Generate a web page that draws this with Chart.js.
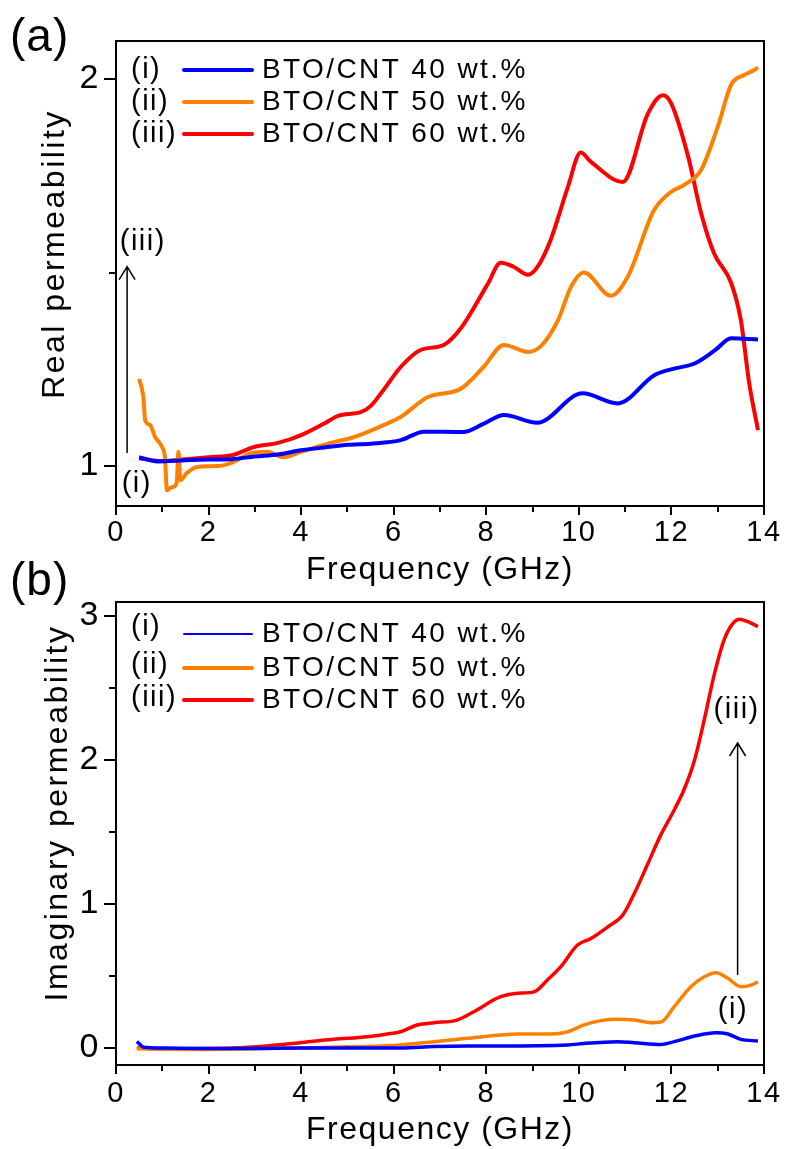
<!DOCTYPE html>
<html>
<head>
<meta charset="utf-8">
<title>BTO/CNT permeability</title>
<script src="https://cdn.jsdelivr.net/npm/chart.js@4.4.1/dist/chart.umd.min.js"></script>
<style>
    html, body { margin: 0; padding: 0; background: #fff; }
    body { width: 788px; height: 1149px; position: relative; overflow: hidden; }
    canvas { position: absolute; left: 0; }
    #realChart { top: 0; }
    #imagChart { top: 560px; }
</style>
</head>
<body>
<canvas id="realChart" width="788" height="600"></canvas>
<canvas id="imagChart" width="788" height="589"></canvas>
<script>
// Axis ticks
const xTicks = [0, 2, 4, 6, 8, 10, 12, 14];
const xMinorTicks = [1, 3, 5, 7, 9, 11, 13];
const realTicks = [1, 2];
const realMinorTicks = [1.5];
const imagTicks = [0, 1, 2, 3];
const imagMinorTicks = [0.5, 1.5, 2.5];

// Series labels
const seriesTags = ['(i)', '(ii)', '(iii)'];
const seriesLabels = ['BTO/CNT 40 wt.%', 'BTO/CNT 50 wt.%', 'BTO/CNT 60 wt.%'];
const seriesColors = ['#0000ff', '#ff8000', '#ff0000'];

// (a) real permeability
const realFreq40 = [0.5, 0.9, 1.5, 2.0, 2.5, 3.0, 3.5, 4.0, 4.5, 5.0, 5.5, 6.15, 6.65, 7.5, 7.95, 8.38, 9.1, 10.08, 10.84, 11.63, 12.06, 12.5, 12.95, 13.29, 13.87];
const real40 = [1.023, 1.012, 1.015, 1.017, 1.018, 1.025, 1.03, 1.041, 1.048, 1.055, 1.058, 1.067, 1.089, 1.088, 1.11, 1.132, 1.112, 1.188, 1.162, 1.235, 1.252, 1.265, 1.30, 1.33, 1.327];

const realFreq50 = [0.5, 0.59, 0.63, 0.74, 0.84, 0.99, 1.06, 1.1, 1.2, 1.31, 1.35, 1.39, 1.53, 1.75, 2.19, 2.53, 2.9, 3.27, 3.61, 3.98, 4.35, 4.7, 5.06, 5.43, 5.78, 6.15, 6.73, 7.45, 7.94, 8.38, 8.9, 9.18, 9.55, 9.83, 10.11, 10.69, 11.06, 11.62, 11.99, 12.27, 12.64, 13.0, 13.29, 13.57, 13.79, 13.87];
const real50 = [1.225, 1.179, 1.119, 1.106, 1.076, 1.05, 1.02, 0.938, 0.945, 0.956, 1.037, 0.964, 0.982, 0.998, 1.0, 1.01, 1.033, 1.037, 1.023, 1.036, 1.05, 1.062, 1.072, 1.088, 1.106, 1.127, 1.178, 1.20, 1.256, 1.313, 1.295, 1.31, 1.377, 1.463, 1.50, 1.44, 1.49, 1.66, 1.708, 1.726, 1.765, 1.876, 1.985, 2.01, 2.023, 2.03];

const realFreq60 = [0.5, 1.0, 1.5, 2.0, 2.5, 3.0, 3.5, 4.0, 4.5, 4.8, 5.3, 5.5, 5.8, 6.15, 6.58, 7.08, 7.45, 8.03, 8.31, 8.59, 8.9, 9.11, 9.39, 9.76, 10.04, 10.26, 10.95, 11.49, 11.82, 11.99, 12.36, 12.64, 12.92, 13.29, 13.5, 13.68, 13.87];
const real60 = [1.02, 1.013, 1.018, 1.023, 1.028, 1.05, 1.06, 1.08, 1.11, 1.13, 1.14, 1.155, 1.2, 1.256, 1.30, 1.313, 1.356, 1.47, 1.525, 1.515, 1.494, 1.515, 1.584, 1.72, 1.81, 1.786, 1.734, 1.91, 1.958, 1.938, 1.80, 1.654, 1.55, 1.473, 1.377, 1.214, 1.093];

// (b) imaginary permeability
const imagFreq40 = [0.45, 0.5, 0.6, 1.0, 2.0, 3.0, 4.0, 5.0, 6.15, 6.87, 7.59, 8.31, 9.76, 10.11, 10.84, 11.2, 11.77, 12.06, 12.5, 12.96, 13.22, 13.5, 13.87];
const imag40 = [0.045, 0.03, 0.005, 0.0, -0.003, -0.003, 0.0, 0.0, 0.0, 0.01, 0.014, 0.014, 0.021, 0.032, 0.044, 0.037, 0.025, 0.044, 0.083, 0.106, 0.097, 0.06, 0.049];

const imagFreq50 = [0.45, 1.0, 1.82, 3.0, 3.98, 5.0, 5.43, 6.15, 6.87, 7.59, 8.31, 8.67, 9.39, 9.76, 10.11, 10.48, 10.84, 11.2, 11.56, 11.77, 12.06, 12.42, 12.71, 12.96, 13.22, 13.5, 13.72, 13.87];
const imag50 = [-0.005, -0.008, -0.01, -0.005, 0.0, 0.008, 0.01, 0.021, 0.044, 0.067, 0.09, 0.097, 0.097, 0.113, 0.16, 0.19, 0.199, 0.194, 0.176, 0.18, 0.287, 0.426, 0.495, 0.523, 0.484, 0.426, 0.437, 0.46];

const imagFreq60 = [0.45, 1.1, 2.53, 3.26, 3.98, 4.7, 5.43, 5.86, 6.15, 6.51, 6.87, 7.37, 7.73, 8.31, 8.67, 9.03, 9.32, 9.61, 9.97, 10.26, 10.62, 10.95, 11.2, 11.49, 11.77, 12.06, 12.28, 12.5, 12.71, 12.93, 13.15, 13.36, 13.47, 13.65, 13.87];
const imag60 = [0.0, -0.005, 0.0, 0.014, 0.037, 0.06, 0.078, 0.097, 0.113, 0.16, 0.176, 0.194, 0.252, 0.356, 0.38, 0.39, 0.472, 0.565, 0.715, 0.76, 0.84, 0.924, 1.074, 1.28, 1.48, 1.653, 1.80, 2.0, 2.28, 2.6, 2.845, 2.96, 2.977, 2.96, 2.926];

const FONT = "'Liberation Sans', Arial, sans-serif";
Chart.defaults.font.family = FONT;
Chart.defaults.color = '#000';

// per-panel decorations: legend rows, arrow, labels (values in data units where it makes sense)
const panelSetup = {
    realChart: {
        panel: '(a)', panelY: 38,
        yTitle: 'Real permeability', yTitleX: 64, yTitleY: 254,
        minor: realMinorTicks,
        tagY: [70, 102, 134], rowY: [70, 102, 134], legendWidths: [4, 4, 4],
        arrow: { x: 0.24, from: 1.034, to: 1.515 },
        top: { text: '(iii)', x: 0.58, y: 1.58 },
        bottom: { text: '(i)', x: 0.45, y: 0.955 }
    },
    imagChart: {
        panel: '(b)', panelY: 22,
        yTitle: 'Imaginary permeability', yTitleX: 67, yTitleY: 253,
        minor: imagMinorTicks,
        tagY: [67, 105, 138], rowY: [74, 108, 140], legendWidths: [2, 4, 4],
        arrow: { x: 13.43, from: 0.507, to: 2.118 },
        top: { text: '(iii)', x: 13.41, y: 2.347 },
        bottom: { text: '(i)', x: 13.33, y: 0.264 }
    }
};

function drawText(ctx, str, x, y, size, align, spacing) {
    ctx.font = size + 'px ' + FONT;
    ctx.letterSpacing = spacing + 'px';
    ctx.textAlign = align;
    ctx.textBaseline = 'middle';
    ctx.fillStyle = '#000';
    ctx.fillText(str, x, y);
}

const framePlugin = {
    id: 'frame',
    beforeDraw(chart) {
        chart.ctx.letterSpacing = '1.5px';
    },
    afterDatasetsDraw(chart) {
        const setup = panelSetup[chart.canvas.id];
        const { ctx, chartArea: a, scales: { x, y } } = chart;
        ctx.save();
        ctx.strokeStyle = '#000';
        ctx.lineWidth = 2;
        ctx.strokeRect(a.left, a.top, a.right - a.left, a.bottom - a.top);
        // minor ticks
        ctx.beginPath();
        xMinorTicks.forEach(v => {
            const px = Math.round(x.getPixelForValue(v));
            ctx.moveTo(px, a.bottom);
            ctx.lineTo(px, a.bottom + 6);
        });
        setup.minor.forEach(v => {
            const py = Math.round(y.getPixelForValue(v));
            ctx.moveTo(a.left, py);
            ctx.lineTo(a.left - 7, py);
        });
        ctx.stroke();
        ctx.restore();
    }
};

const textPlugin = {
    id: 'panelText',
    afterDraw(chart) {
        const setup = panelSetup[chart.canvas.id];
        const { ctx, scales: { x, y } } = chart;
        ctx.save();

        // panel label
        drawText(ctx, setup.panel, 10, setup.panelY, 46, 'left', 1);

        // y axis title
        ctx.save();
        ctx.translate(setup.yTitleX, setup.yTitleY);
        ctx.rotate(-Math.PI / 2);
        ctx.font = '32px ' + FONT;
        ctx.letterSpacing = '2.5px';
        ctx.textAlign = 'center';
        ctx.textBaseline = 'alphabetic';
        ctx.fillStyle = '#000';
        ctx.fillText(setup.yTitle, 0, 0);
        ctx.restore();

        // legend
        chart.data.datasets.forEach((ds, i) => {
            drawText(ctx, seriesTags[i], 131, setup.tagY[i], 29, 'left', 1.5);
            ctx.strokeStyle = ds.borderColor;
            ctx.lineWidth = setup.legendWidths[i];
            ctx.lineCap = 'round';
            ctx.beginPath();
            ctx.moveTo(184, setup.rowY[i]);
            ctx.lineTo(252, setup.rowY[i]);
            ctx.stroke();
            drawText(ctx, ds.label, 262, setup.rowY[i], 28, 'left', 2.4);
        });

        // arrow (i) -> (iii)
        const ax = x.getPixelForValue(setup.arrow.x);
        const y0 = y.getPixelForValue(setup.arrow.from);
        const y1 = y.getPixelForValue(setup.arrow.to);
        ctx.strokeStyle = '#000';
        ctx.lineWidth = 1.5;
        ctx.lineCap = 'butt';
        ctx.beginPath();
        ctx.moveTo(ax, y0);
        ctx.lineTo(ax, y1);
        ctx.moveTo(ax - 8, y1 + 13);
        ctx.lineTo(ax, y1);
        ctx.lineTo(ax + 8, y1 + 13);
        ctx.stroke();
        [setup.top, setup.bottom].forEach(t => {
            drawText(ctx, t.text, x.getPixelForValue(t.x), y.getPixelForValue(t.y), 29, 'center', 1.5);
        });

        ctx.restore();
    }
};

function makeChart(id, series, yMin, yMax, yTicks, geom) {
    return new Chart(document.getElementById(id), {
        type: 'line',
        data: {
            datasets: series.map((s, i) => ({
                label: seriesLabels[i],
                data: s.freq.map((f, k) => ({ x: f, y: s.vals[k] })),
                borderColor: seriesColors[i],
                borderWidth: geom.lineWidth,
                pointRadius: 0,
                cubicInterpolationMode: 'monotone',
                fill: false
            }))
        },
        options: {
            responsive: false,
            animation: false,
            devicePixelRatio: 1,
            layout: { padding: { top: geom.top, right: 24, left: 0, bottom: 0 } },
            scales: {
                x: {
                    type: 'linear', min: 0, max: 14,
                    afterBuildTicks: s => { s.ticks = xTicks.map(v => ({ value: v })); },
                    afterFit: s => { s.height = geom.xHeight; },
                    grid: { display: true, drawOnChartArea: false, drawTicks: true, tickLength: 9, color: '#000', lineWidth: 2, tickWidth: 2, tickColor: '#000' },
                    border: { display: false },
                    ticks: { font: { size: 29 }, color: '#000', padding: geom.xTickPad, maxRotation: 0, autoSkip: false, callback: v => String(v) },
                    title: { display: true, text: 'Frequency (GHz)', font: { size: 32 }, color: '#000', padding: { top: 0, bottom: geom.titlePad } }
                },
                y: {
                    type: 'linear', min: yMin, max: yMax,
                    afterBuildTicks: s => { s.ticks = yTicks.map(v => ({ value: v })); },
                    afterFit: s => { s.width = 116; },
                    grid: { display: true, drawOnChartArea: false, drawTicks: true, tickLength: 12, color: '#000', lineWidth: 2, tickWidth: 2, tickColor: '#000' },
                    border: { display: false },
                    ticks: { font: { size: 34 }, color: '#000', padding: 4, callback: v => String(v) }
                }
            },
            plugins: { legend: { display: false }, tooltip: { enabled: false } }
        },
        plugins: [framePlugin, textPlugin]
    });
}

makeChart('realChart', [
    { freq: realFreq40, vals: real40 },
    { freq: realFreq50, vals: real50 },
    { freq: realFreq60, vals: real60 }
], 0.897, 2.098, realTicks, { top: 41, xHeight: 94, xTickPad: 1, titlePad: 11, lineWidth: 4 });

makeChart('imagChart', [
    { freq: imagFreq40, vals: imag40 },
    { freq: imagFreq50, vals: imag50 },
    { freq: imagFreq60, vals: imag60 }
], -0.118, 3.097, imagTicks, { top: 42, xHeight: 84, xTickPad: 3, titlePad: 0, lineWidth: 3.5 });
</script>
</body>
</html>
